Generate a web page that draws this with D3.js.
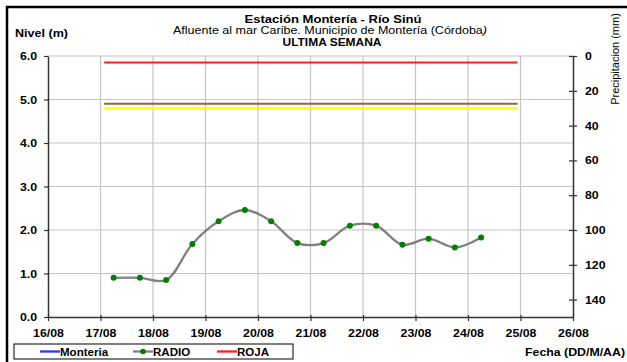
<!DOCTYPE html>
<html><head><meta charset="utf-8">
<script src="https://cdn.jsdelivr.net/npm/d3@7"></script>
<style>html,body{margin:0;padding:0;background:#fff;}svg{display:block;font-family:"Liberation Sans",Arial,sans-serif;}</style>
</head><body><svg id="c" width="627" height="362"></svg>
<script>
// ---- data ----
const xTickLabels = ["16/08","17/08","18/08","19/08","20/08","21/08","22/08","23/08","24/08","25/08","26/08"];
const yTickLabels = ["0.0","1.0","2.0","3.0","4.0","5.0","6.0"];
const precipTicks = [0,20,40,60,80,100,120,140];
const radioTimes = ["2020-08-17T06:00","2020-08-17T18:00","2020-08-18T06:00","2020-08-18T18:00","2020-08-19T06:00","2020-08-19T18:00","2020-08-20T06:00","2020-08-20T18:00","2020-08-21T06:00","2020-08-21T18:00","2020-08-22T06:00","2020-08-22T18:00","2020-08-23T06:00","2020-08-23T18:00","2020-08-24T06:00"];
const radioValues = [0.90,0.90,0.85,1.68,2.20,2.46,2.20,1.70,1.70,2.10,2.10,1.66,1.80,1.60,1.83];
const thresholdNames = ["ROJA","NARANJA","AMARILLA"];
const thresholdValues = [5.85,4.90,4.80];
const thresholdColors = ["#ff2020","#a0622d","#ffff00"];
const thresholdSpan = ["2020-08-17T01:40","2020-08-24T22:40"];
const legendNames = ["Monteria","RADIO","ROJA"];

const svg = d3.select("#c");
const parse = d3.timeParse("%Y-%m-%dT%H:%M");
const x = d3.scaleTime().domain([new Date(2020,7,16), new Date(2020,7,26)]).range([48,573]);
const y = d3.scaleLinear().domain([0,6]).range([317,56]);
const y2 = d3.scaleLinear().domain([0,150]).range([56,317]);

function stretch(sel, f){
  sel.each(function(){
    const w = this.getComputedTextLength();
    d3.select(this).attr("textLength", w*f).attr("lengthAdjust","spacingAndGlyphs");
  });
}

// outer frame (top/left visible)
svg.append("rect").attr("x",7).attr("y",7).attr("width",640).attr("height",380)
  .attr("fill","none").attr("stroke","#000").attr("stroke-width",2.5);

// grid
const days = d3.range(11).map(i => new Date(2020,7,16+i));
svg.append("g").selectAll("line").data(days.slice(1,10)).join("line")
  .attr("x1",d=>x(d)).attr("x2",d=>x(d)).attr("y1",y(6)).attr("y2",y(0))
  .attr("stroke","#c4c4c4").attr("stroke-width",1.2);
svg.append("g").selectAll("line").data(d3.range(1,7)).join("line")
  .attr("x1",x.range()[0]).attr("x2",x.range()[1]).attr("y1",d=>y(d)).attr("y2",d=>y(d))
  .attr("stroke","#c4c4c4").attr("stroke-width",1.2);

// threshold lines
const ts = thresholdSpan.map(parse);
svg.append("g").selectAll("line").data(thresholdValues).join("line")
  .attr("x1",x(ts[0])).attr("x2",x(ts[1])).attr("y1",d=>y(d)).attr("y2",d=>y(d))
  .attr("stroke",(d,i)=>thresholdColors[i]).attr("stroke-width",2);

// axes
const gx = svg.append("g").attr("transform",`translate(0,${y(0)})`)
  .call(d3.axisBottom(x).tickValues(days).tickFormat((d,i)=>xTickLabels[i]).tickSizeInner(4).tickSizeOuter(0));
const gy = svg.append("g").attr("transform",`translate(${x.range()[0]},0)`)
  .call(d3.axisLeft(y).tickValues(d3.range(0,7)).tickFormat((d,i)=>yTickLabels[i]).tickSizeInner(4).tickSizeOuter(0));
const gy2 = svg.append("g").attr("transform",`translate(${x.range()[1]},0)`)
  .call(d3.axisRight(y2).tickValues(precipTicks).tickSizeInner(4).tickSizeOuter(0).tickPadding(8));
gy2.selectAll(".tick line").attr("x1",-4);
[gx,gy,gy2].forEach(g=>{
  g.select(".domain").attr("stroke","#333").attr("stroke-width",1.5);
  g.selectAll(".tick line").attr("stroke","#333").attr("stroke-width",1.2);
  g.selectAll("text").attr("font-size",11).attr("font-weight","bold").attr("fill","#000")
   .attr("font-family","'Liberation Sans',Arial,sans-serif");
  stretch(g.selectAll("text"),1.12);
});
gx.selectAll("text").attr("dy","1.15em");
gy.selectAll("text").attr("dx","-4");
gx.selectAll(".tick line").attr("y1",-2);

// radio series
const radio = radioTimes.map((t,i)=>({t:parse(t),v:radioValues[i]}));
svg.append("path").datum(radio)
  .attr("d",d3.line().x(d=>x(d.t)).y(d=>y(d.v)).curve(d3.curveCatmullRom.alpha(0.5)))
  .attr("fill","none").attr("stroke","#808080").attr("stroke-width",2.3);
svg.append("g").selectAll("circle").data(radio).join("circle")
  .attr("cx",d=>x(d.t)).attr("cy",d=>y(d.v)).attr("r",3).attr("fill","#008000");

// titles
const tg = svg.append("g").attr("text-anchor","middle").attr("fill","#000");
tg.append("text").attr("x",333).attr("y",22.5).attr("font-size",10).attr("font-weight","bold")
  .attr("textLength",177).attr("lengthAdjust","spacingAndGlyphs").text("Estación Montería  - Río Sinú");
const st = tg.append("text").attr("x",330).attr("y",34).attr("font-size",10)
  .attr("textLength",314).attr("lengthAdjust","spacingAndGlyphs");
st.append("tspan").text("Afluente al mar Caribe. Municipio de Montería (Córdoba");
st.append("tspan").attr("font-style","italic").text(")");
tg.append("text").attr("x",332).attr("y",45.5).attr("font-size",10).attr("font-weight","bold")
  .attr("textLength",99).attr("lengthAdjust","spacingAndGlyphs").text("ULTIMA SEMANA");

svg.append("text").attr("x",15).attr("y",37).attr("font-size",11).attr("font-weight","bold")
  .attr("textLength",53).attr("lengthAdjust","spacingAndGlyphs").text("Nivel (m)");
svg.append("text").attr("transform","translate(619,59) rotate(-90)").attr("text-anchor","middle")
  .attr("font-size",11).text("Precipitacion (mm)");
svg.append("text").attr("x",625).attr("y",356).attr("text-anchor","end").attr("font-size",11).attr("font-weight","bold")
  .attr("textLength",100).attr("lengthAdjust","spacingAndGlyphs").text("Fecha (DD/M/AA)");

// legend
const lg = svg.append("g");
lg.append("rect").attr("x",14).attr("y",344).attr("width",279).attr("height",15)
  .attr("fill","#fff").attr("stroke","#000").attr("stroke-width",1);
const legColors = ["#3333ff","#808080","#ff2020"];
const legX = [40,133,217];
legendNames.forEach((n,i)=>{
  lg.append("line").attr("x1",legX[i]).attr("x2",legX[i]+20).attr("y1",351.5).attr("y2",351.5)
    .attr("stroke",legColors[i]).attr("stroke-width",2.3);
  if(i===1) lg.append("circle").attr("cx",legX[i]+10).attr("cy",351.5).attr("r",2.8).attr("fill","#008000");
  const t = lg.append("text").attr("x",legX[i]+20).attr("y",355.5).attr("font-size",11).attr("font-weight","bold").text(n);
  stretch(t,1.05);
});
</script></body></html>
